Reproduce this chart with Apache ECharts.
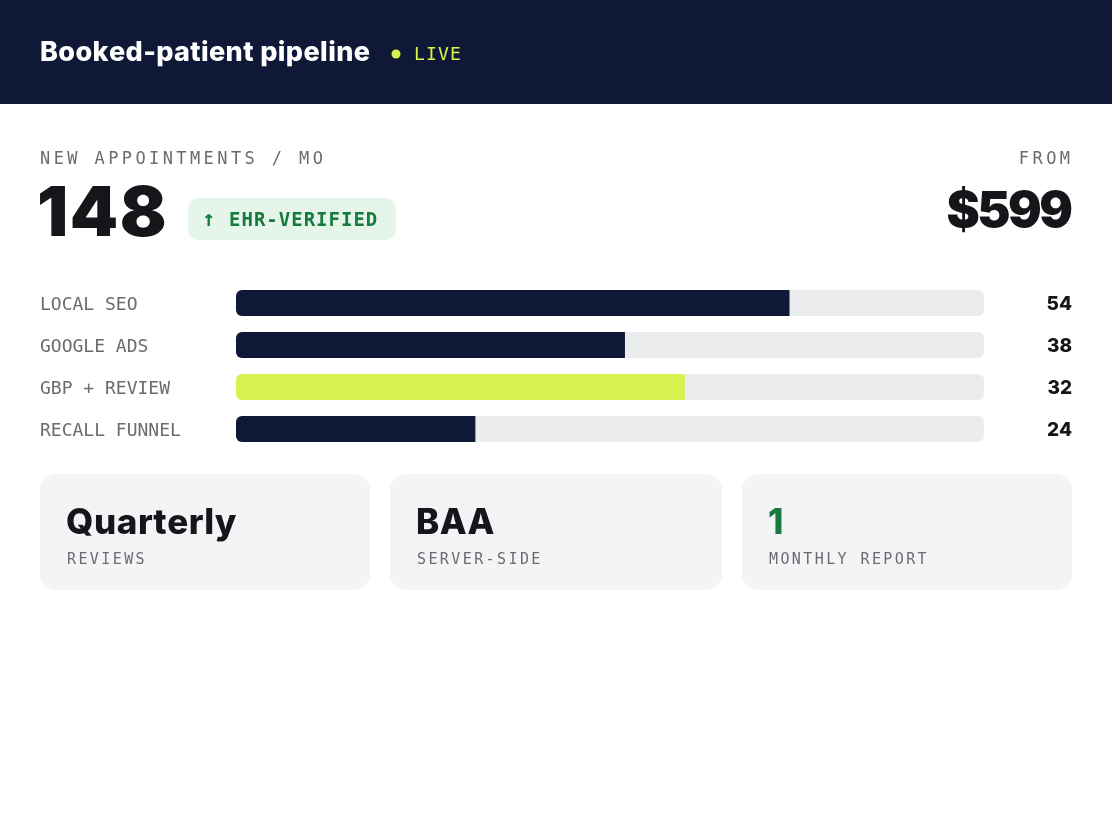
<!DOCTYPE html>
<html>
<head>
<meta charset="utf-8">
<script src="https://cdn.jsdelivr.net/npm/echarts@6/dist/echarts.min.js"></script>
<style>
html,body{margin:0;padding:0;background:#fff;}
#chart{width:1112px;height:840px;}
</style>
</head>
<body>
<div id="chart"></div>
<script>
// ---- data ----
const categories = ['LOCAL SEO', 'GOOGLE ADS', 'GBP + REVIEW', 'RECALL FUNNEL'];
const counts = [54, 38, 32, 24];
const fillPercent = [74, 52, 60, 32];
const highlightIndex = 2;
const headline = { title: 'Booked-patient pipeline', status: 'LIVE' };
const kpi = { label: 'NEW APPOINTMENTS / MO', value: '148', badge: 'EHR-VERIFIED' };
const price = { label: 'FROM', value: '$599' };
const tileTitles = ['Quarterly', 'BAA', '1'];
const tileSubtitles = ['REVIEWS', 'SERVER-SIDE', 'MONTHLY REPORT'];

// ---- styles ----
const NAVY = '#0f1836', LIME = '#d9f250', TRACK = '#ebecee', GRAY = '#6b6b70',
      INK = '#16161a', GREEN = '#177a3e', BADGE = '#e5f5ea', TILE = '#f3f4f6';
const MONO = '"DejaVu Sans Mono", monospace';
const SANS = 'Inter, "Noto Sans", sans-serif';

const mctx = document.createElement('canvas').getContext('2d');
function spaced(str, x, y, o) {
  const font = (o.weight || 'normal') + ' ' + o.size + 'px ' + o.family;
  mctx.font = font;
  const sp = o.spacing || 0;
  const widths = [...str].map(c => mctx.measureText(c).width);
  const total = widths.reduce((a, b) => a + b, 0) + sp * (widths.length - 1);
  let cx = o.align === 'right' ? x - total : x;
  const els = [];
  [...str].forEach((c, i) => {
    els.push({ type: 'text', x: cx, y: y, silent: true,
      style: { text: c, fill: o.color, font: font, textAlign: 'left', textVerticalAlign: 'middle' } });
    cx += widths[i] + sp;
  });
  return { type: 'group', children: els };
}

const graphics = [];
graphics.push({ type: 'rect', shape: { x: 0, y: 0, width: 1112, height: 104 }, style: { fill: NAVY }, silent: true });
graphics.push(spaced(headline.title, 40, 53, { size: 27, family: SANS, weight: '800', color: '#fff', spacing: 0.4 }));
graphics.push({ type: 'circle', shape: { cx: 396, cy: 54, r: 4.5 }, style: { fill: LIME } });
graphics.push(spaced(headline.status, 414, 55, { size: 18, family: MONO, color: LIME, spacing: 1.2 }));

graphics.push(spaced(kpi.label, 40, 160, { size: 17, family: MONO, color: GRAY, spacing: 3.4 }));
graphics.push(spaced(kpi.value, 37, 215, { size: 69, family: SANS, weight: '900', color: INK, spacing: 1.5 }));
graphics.push({ type: 'rect', shape: { x: 188, y: 198, width: 208, height: 42, r: 10 }, style: { fill: BADGE } });
graphics.push(spaced('↑', 202, 220, { size: 22, family: MONO, color: GREEN, weight: 'bold' }));
graphics.push(spaced(kpi.badge, 229, 221, { size: 19, family: MONO, color: GREEN, weight: 'bold', spacing: 1 }));

graphics.push(spaced(price.label, 1070, 160, { size: 17, family: MONO, color: GRAY, spacing: 3.4, align: 'right' }));
graphics.push(spaced(price.value, 1073, 212, { size: 50, family: SANS, weight: '900', color: INK, spacing: -2.5, align: 'right' }));

const tileX = [40, 390, 742], tileW = [330, 332, 330];
tileTitles.forEach((t, i) => {
  graphics.push({ type: 'rect', shape: { x: tileX[i], y: 474, width: tileW[i], height: 116, r: 16 }, style: { fill: TILE } });
  graphics.push(spaced(t, tileX[i] + 26, 523, { size: 35, family: SANS, weight: '800', color: i === 2 ? GREEN : INK, spacing: 0.6 }));
  graphics.push(spaced(tileSubtitles[i], tileX[i] + 27, 560, { size: 15, family: MONO, color: GRAY, spacing: 2.4 }));
});

const chart = echarts.init(document.getElementById('chart'), null, { renderer: 'canvas' });
chart.setOption({
  animation: false,
  backgroundColor: '#fff',
  grid: { left: 236, right: 128, top: 282, height: 168, containLabel: false },
  xAxis: { type: 'value', min: 0, max: 100, show: false },
  yAxis: [
    { type: 'category', data: categories, inverse: true,
      axisLine: { show: false }, axisTick: { show: false }, splitLine: { show: false },
      axisLabel: { align: 'left', margin: 196, formatter: v => '{a|' + v + '}',
        rich: { a: { color: GRAY, fontFamily: MONO, fontSize: 18, padding: [5, 0, 0, 0] } } } },
    { type: 'category', data: counts.map(String), inverse: true, position: 'right',
      axisLine: { show: false }, axisTick: { show: false }, splitLine: { show: false },
      axisLabel: { align: 'right', margin: 88, formatter: v => '{b|' + v + '}',
        rich: { b: { color: INK, fontFamily: SANS, fontWeight: 800, fontSize: 19, padding: [3, 0, 0, 0] } } } }
  ],
  series: [{
    type: 'bar', yAxisIndex: 0, barWidth: 26,
    showBackground: true,
    backgroundStyle: { color: TRACK, borderRadius: 6 },
    data: fillPercent.map((v, i) => ({ value: v, itemStyle: { color: i === highlightIndex ? LIME : NAVY } })),
    itemStyle: { borderRadius: [6, 0, 0, 6] },
    silent: true
  }],
  graphic: graphics
});
</script>
</body>
</html>
